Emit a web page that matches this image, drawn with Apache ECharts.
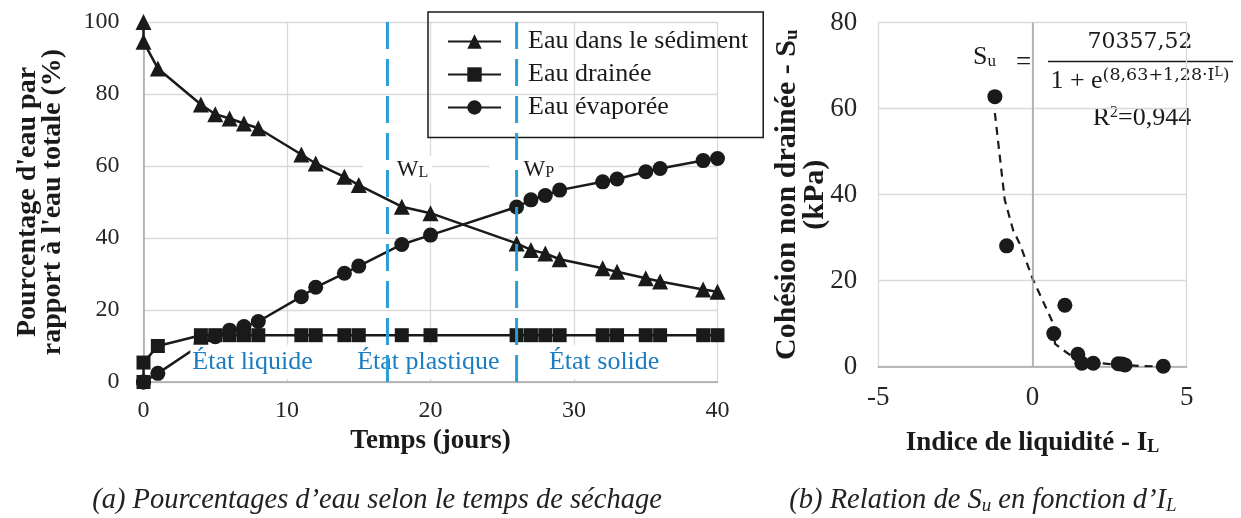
<!DOCTYPE html>
<html><head><meta charset="utf-8">
<script src="https://cdn.jsdelivr.net/npm/echarts@6/dist/echarts.min.js"></script>
<style>html,body{margin:0;padding:0;background:#fff}#c{width:1241px;height:518px}</style>
</head><body><div id="c"></div>
<script>
// ---- (a) water percentages vs drying time ----
const days       = [0, 0, 1, 4, 5, 6, 7, 8, 11, 12, 14, 15, 18, 20, 26, 27, 28, 29, 32, 33, 35, 36, 39, 40];
const sediment   = [100, 94.5, 87.1, 77.1, 74.4, 73.2, 71.8, 70.5, 63.2, 60.7, 57.0, 54.7, 48.7, 46.9, 38.5, 36.7, 35.7, 34.1, 31.6, 30.6, 28.8, 27.9, 25.7, 25.1];
const drained    = [0, 5.4, 10.0, 13.0, 13.0, 13.0, 13.0, 13.0, 13.0, 13.0, 13.0, 13.0, 13.0, 13.0, 13.0, 13.0, 13.0, 13.0, 13.0, 13.0, 13.0, 13.0, 13.0, 13.0];
const evaporated = [0, 0, 2.4, 10.4, 12.6, 14.4, 15.4, 16.8, 23.7, 26.3, 30.2, 32.2, 38.2, 40.8, 48.6, 50.6, 51.8, 53.3, 55.6, 56.4, 58.4, 59.3, 61.5, 62.1];
const seriesNames = ['Eau dans le sédiment', 'Eau drainée', 'Eau évaporée'];
const limitDays   = [17, 26];
const limitNames  = ['W{s|L}', 'W{s|P}'];
const stateNames  = ['État liquide', 'État plastique', 'État solide'];
const xTicksA = [0, 10, 20, 30, 40];
const yTicksA = [0, 20, 40, 60, 80, 100];

// ---- (b) Su vs IL ----
const liquidityIndex = [-1.22, -0.84, 1.05, 0.69, 1.47, 1.60, 1.97, 2.78, 2.90, 3.00, 4.24];
const shearStrength  = [62.8, 28.1, 14.3, 7.7, 2.9, 0.8, 0.8, 0.7, 0.6, 0.4, 0.1];
const fitIL = [-1.22, -0.90, -0.63, -0.41, 0.02, 0.67, 0.73, 0.99, 1.37, 1.95, 2.51, 3.58, 4.24];
const fitSu = [59.0, 38.8, 31.8, 28.5, 20.2, 10.1, 5.3, 3.9, 1.9, 1.0, 0.6, 0.15, 0.05];
const xTicksB = [-5, 0, 5];
const yTicksB = [0, 20, 40, 60, 80];

const FONT = '"Liberation Serif", "Times New Roman", serif';
const MATH = '"DejaVu Serif", serif';
const INK = '#1a1a1a';
const BLUE_LINE = '#2a9fd6';
const BLUE_TEXT = '#1a7cc1';

// annotation anchors (data coords)
const stateAnchors = [[7.6, 5.6], [19.85, 5.6], [32.1, 5.6]];
const limitAnchors = [[17.7, 59], [26.5, 59]];

function pairs(xs, ys) { return xs.map((x, i) => [x, ys[i]]); }
function subStyle(size, bold) {
  return { s: { fontSize: size, fontFamily: FONT, fontWeight: bold ? 'bold' : 'normal', color: INK, verticalAlign: 'bottom', lineHeight: Math.round(size * 0.75) } };
}

const option = {
  animation: false,
  backgroundColor: '#fff',
  textStyle: { fontFamily: FONT },
  title: [
    { text: '(a) Pourcentages d’eau selon le temps de séchage', left: 372, top: 481, textAlign: 'center',
      textStyle: { fontFamily: FONT, fontSize: 28.5, fontStyle: 'italic', fontWeight: 'normal', color: '#222' } },
    { text: '(b) Relation de S{i|u} en fonction d’I{i|L}', left: 978, top: 481, textAlign: 'center',
      textStyle: { fontFamily: FONT, fontSize: 28.5, fontStyle: 'italic', fontWeight: 'normal', color: '#222',
        rich: { i: { fontFamily: FONT, fontSize: 19, fontStyle: 'italic', color: '#222', verticalAlign: 'bottom', lineHeight: 14 } } } }
  ],
  legend: {
    data: seriesNames,
    orient: 'vertical',
    left: 428, top: 12,
    padding: [16.5, 15, 17, 19],
    itemWidth: 53, itemHeight: 18, itemGap: 7,
    borderColor: INK, borderWidth: 1.5,
    textStyle: { fontFamily: FONT, fontSize: 26, color: INK, padding: [0, 0, 0, 22] }
  },
  grid: [
    { left: 143.5, top: 22, width: 574, height: 360 },
    { left: 878.3, top: 22.7, width: 308.4, height: 344 }
  ],
  xAxis: [
    { type: 'value', gridIndex: 0, min: xTicksA[0], max: xTicksA[xTicksA.length - 1], interval: 10,
      name: 'Temps (jours)', nameLocation: 'middle', nameGap: 46, nameMoveOverlap: false,
      nameTextStyle: { fontFamily: FONT, fontSize: 27, fontWeight: 'bold', color: INK },
      axisLine: { lineStyle: { color: '#a6a6a6', width: 1.5 } }, axisTick: { show: false },
      axisLabel: { fontFamily: FONT, fontSize: 24, color: '#262626', margin: 17 },
      splitLine: { lineStyle: { color: '#d9d9d9', width: 1.3 } } },
    { type: 'value', gridIndex: 1, min: xTicksB[0], max: xTicksB[xTicksB.length - 1], interval: 5,
      name: 'Indice de liquidité - I{s|L}', nameLocation: 'middle', nameGap: 63, nameMoveOverlap: false,
      nameTextStyle: { fontFamily: FONT, fontSize: 27, fontWeight: 'bold', color: INK, rich: subStyle(18, true) },
      axisLine: { onZero: false, lineStyle: { color: '#a6a6a6', width: 1.5 } }, axisTick: { show: false },
      axisLabel: { fontFamily: FONT, fontSize: 27, color: '#262626', margin: 18 },
      splitLine: { lineStyle: { color: '#d9d9d9', width: 1.3 } } }
  ],
  yAxis: [
    { type: 'value', gridIndex: 0, min: yTicksA[0], max: yTicksA[yTicksA.length - 1], interval: 20,
      name: 'Pourcentage d\'eau par\nrapport à l\'eau totale (%)', nameLocation: 'middle', nameGap: 78, nameMoveOverlap: false,
      nameTextStyle: { fontFamily: FONT, fontSize: 28, fontWeight: 'bold', color: INK, lineHeight: 25 },
      axisLine: { show: true, lineStyle: { color: '#a6a6a6', width: 1.5 } }, axisTick: { show: false },
      axisLabel: { fontFamily: FONT, fontSize: 24, color: '#262626', margin: 24 },
      splitLine: { lineStyle: { color: '#d9d9d9', width: 1.3 } } },
    { type: 'value', gridIndex: 1, min: yTicksB[0], max: yTicksB[yTicksB.length - 1], interval: 20,
      name: 'Cohésion non drainée - S{s|u}\n(kPa)', nameLocation: 'middle', nameGap: 49, nameMoveOverlap: false,
      nameTextStyle: { fontFamily: FONT, fontSize: 30, fontWeight: 'bold', color: INK, lineHeight: 28, rich: subStyle(19, true) },
      axisLine: { show: false }, axisTick: { show: false },
      axisLabel: { fontFamily: FONT, fontSize: 27, color: '#262626', margin: 21 },
      splitLine: { lineStyle: { color: '#d9d9d9', width: 1.3 } } }
  ],
  series: [
    { name: seriesNames[0], type: 'line', xAxisIndex: 0, yAxisIndex: 0, data: pairs(days, sediment),
      symbol: 'triangle', symbolSize: 16, itemStyle: { color: INK, opacity: 1 }, lineStyle: { color: INK, width: 2.5 }, z: 2 },
    { name: seriesNames[1], type: 'line', xAxisIndex: 0, yAxisIndex: 0, data: pairs(days, drained),
      symbol: 'rect', symbolSize: 14, itemStyle: { color: INK, opacity: 1 }, lineStyle: { color: INK, width: 2.5 }, z: 2 },
    { name: seriesNames[2], type: 'line', xAxisIndex: 0, yAxisIndex: 0, data: pairs(days, evaporated),
      symbol: 'circle', symbolSize: 15, itemStyle: { color: INK, opacity: 1 }, lineStyle: { color: INK, width: 2.5 }, z: 2 },
    { name: 'annotations', type: 'scatter', xAxisIndex: 0, yAxisIndex: 0, symbolSize: 0, silent: true, z: 3,
      itemStyle: { opacity: 1 },
      data: stateNames.map((t, i) => ({ value: stateAnchors[i], label: {
        show: true, position: 'inside', formatter: t, fontFamily: FONT, fontSize: 26, color: BLUE_TEXT,
        backgroundColor: '#fff', padding: [7, 2, 1, 2] } }))
        .concat(limitNames.map((t, i) => ({ value: limitAnchors[i], label: {
          show: true, position: 'inside', formatter: t, fontFamily: FONT, fontSize: 23, color: INK,
          backgroundColor: '#fff', padding: [2, 4, 2, 34], rich: subStyle(16, false) } }))) },
    ...limitDays.map((d, i) => ({
      name: 'limit' + i, type: 'line', xAxisIndex: 0, yAxisIndex: 0, z: 4, silent: true,
      data: [[d, yTicksA[0]], [d, yTicksA[yTicksA.length - 1]]], symbol: 'none',
      lineStyle: { color: BLUE_LINE, width: 3, type: [27, 10] } })),
    { name: 'fit', type: 'line', xAxisIndex: 1, yAxisIndex: 1, data: pairs(fitIL, fitSu), symbol: 'none',
      smooth: false, lineStyle: { color: INK, width: 2.2, type: [8, 6] }, z: 2, silent: true },
    { name: 'Su', type: 'scatter', xAxisIndex: 1, yAxisIndex: 1, data: pairs(liquidityIndex, shearStrength),
      symbolSize: 15, itemStyle: { color: INK, opacity: 1 }, z: 3,
      markLine: { silent: true, symbol: 'none', label: { show: false },
        lineStyle: { color: '#a6a6a6', width: 1.5, type: 'solid' }, data: [{ xAxis: 0 }] } }
  ],
  graphic: [
    { type: 'text', left: 973, top: 44, style: { text: 'S{s|u}', font: '26px ' + FONT, fill: INK,
        rich: { s: { fontSize: 17, fontFamily: FONT, fill: INK, verticalAlign: 'bottom', lineHeight: 12 } } } },
    { type: 'text', left: 1016, top: 49, style: { text: '=', font: '27px ' + FONT, fill: INK } },
    { type: 'text', x: 1140, y: 42, style: { text: '70357,52', font: '22px ' + MATH, fill: INK, align: 'center', verticalAlign: 'middle' } },
    { type: 'line', shape: { x1: 1048, y1: 61.5, x2: 1233, y2: 61.5 }, style: { stroke: INK, lineWidth: 1.5 } },
    { type: 'text', x: 1140, y: 81, style: { text: '{m|1 + e}{p|(8,63+1,28·I}{q|L}{p|)}', fill: INK, align: 'center', verticalAlign: 'middle',
        rich: { m: { fontSize: 26, fontFamily: FONT, fill: INK, lineHeight: 30 },
                p: { fontSize: 17.5, fontFamily: MATH, fill: INK, verticalAlign: 'top', lineHeight: 24 },
                q: { fontSize: 12.5, fontFamily: MATH, fill: INK, verticalAlign: 'top', lineHeight: 30 } } } },
    { type: 'text', x: 1142, y: 118, style: { text: 'R{p|2}=0,944', font: '26px ' + FONT, fill: INK, align: 'center', verticalAlign: 'middle',
        rich: { p: { fontSize: 16, fontFamily: FONT, fill: INK, verticalAlign: 'top', lineHeight: 12 } } } }
  ]
};

const chart = echarts.init(document.getElementById('c'), null, { renderer: 'canvas' });
chart.setOption(option);
</script>
</body></html>
